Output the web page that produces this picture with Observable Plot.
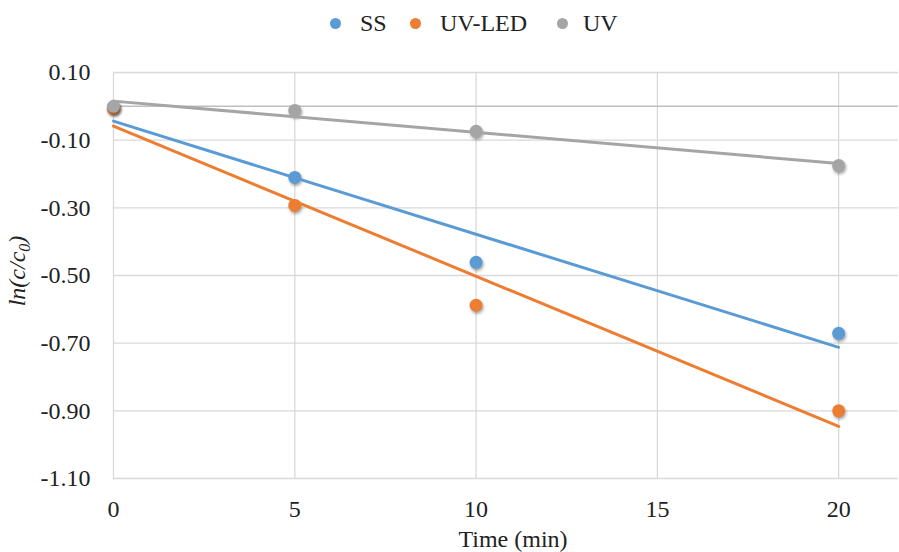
<!DOCTYPE html>
<html>
<head>
<meta charset="utf-8">
<script src="https://cdn.jsdelivr.net/npm/d3@7"></script>
<script src="https://cdn.jsdelivr.net/npm/@observablehq/plot@0.6"></script>
<style>
  html, body { margin: 0; padding: 0; background: #fff; }
  body { width: 899px; height: 552px; overflow: hidden; font-family: "Liberation Serif", "Times New Roman", "DejaVu Serif", serif; }
  #legend { position: relative; height: 45px; font-size: 24px; color: #222; }
  .item { position: absolute; top: 0; height: 46px; display: flex; align-items: center; }
  .dot { width: 11px; height: 11px; border-radius: 50%; margin-right: 19px; }
  #chart svg { display: block; }
  #chart svg, #chart svg text { font-family: "Liberation Serif", "Times New Roman", "DejaVu Serif", serif !important; }
  #chart svg g[aria-label$="tick label"] text, #chart svg g[aria-label$="tick label"] { font-size: 24px !important; }
  #chart svg circle { filter: drop-shadow(1px 2px 1.5px rgba(0,0,0,0.35)); }
</style>
</head>
<body>
<div id="legend"></div>
<div id="chart"></div>
<script>
// ---- data ----
const times = [0, 5, 10, 20];
const ssValues = [-0.003, -0.21, -0.461, -0.671];
const uvLedValues = [-0.006, -0.293, -0.588, -0.90];
const uvValues = [0.0, -0.012, -0.074, -0.175];
const seriesNames = ["SS", "UV-LED", "UV"];
const seriesColors = ["#5B9BD5", "#ED7D31", "#A5A5A5"];
const xTicks = [0, 5, 10, 15, 20];
const yTicks = [0.10, -0.10, -0.30, -0.50, -0.70, -0.90, -1.10];

const seriesValues = [ssValues, uvLedValues, uvValues];
const data = seriesNames.flatMap((s, i) => times.map((t, j) => ({series: s, t, v: seriesValues[i][j]})));

// ---- legend ----
const legendLeft = [330, 410, 557];
const legend = document.getElementById("legend");
seriesNames.forEach((s, i) => {
  const it = document.createElement("div");
  it.className = "item";
  it.style.left = legendLeft[i] + "px";
  const d = document.createElement("span");
  d.className = "dot";
  d.style.background = seriesColors[i];
  if (i === 2) d.style.marginRight = "15px";
  const tx = document.createElement("span");
  tx.textContent = s;
  it.appendChild(d); it.appendChild(tx);
  legend.appendChild(it);
});

// ---- chart ----
const chart = Plot.plot({
  width: 899,
  height: 507,
  marginTop: 27,
  marginBottom: 74,
  marginLeft: 113,
  marginRight: 1,
  style: {fontSize: "24px", color: "#222", background: "#fff"},
  x: {domain: [0, 21.65], ticks: xTicks, tickSize: 0, tickPadding: 21, label: null},
  y: {domain: [-1.1, 0.1], ticks: yTicks, tickSize: 0, tickPadding: 23, label: null, tickFormat: d => d.toFixed(2).replace("\u2212", "-")},
  color: {domain: seriesNames, range: seriesColors},
  marks: [
    Plot.gridX(xTicks, {stroke: "#d9d9d9", strokeOpacity: 1, strokeWidth: 1.3}),
    Plot.gridY(yTicks, {stroke: "#d9d9d9", strokeOpacity: 1, strokeWidth: 1.3}),
    Plot.ruleY([0], {stroke: "#bfbfbf", strokeWidth: 1.5}),
    Plot.dot(data, {x: "t", y: "v", fill: "series", r: 6.5}),
    Plot.linearRegressionY(data, {x: "t", y: "v", stroke: "series", ci: 0, strokeWidth: 3})
  ]
});
document.getElementById("chart").appendChild(chart);

// axis titles
const svg = d3.select(chart);
svg.append("text")
  .attr("x", 513).attr("y", 502)
  .attr("text-anchor", "middle")
  .attr("font-size", 24).attr("fill", "#222")
  .text("Time (min)");
const yl = svg.append("text")
  .attr("transform", "translate(25,226) rotate(-90)")
  .attr("text-anchor", "middle")
  .attr("font-style", "italic")
  .attr("font-size", 24).attr("fill", "#222");
yl.append("tspan").text("ln(c/c");
yl.append("tspan").attr("font-size", 16).attr("dy", 5).text("0");
yl.append("tspan").attr("dy", -5).text(")");
</script>
</body>
</html>
